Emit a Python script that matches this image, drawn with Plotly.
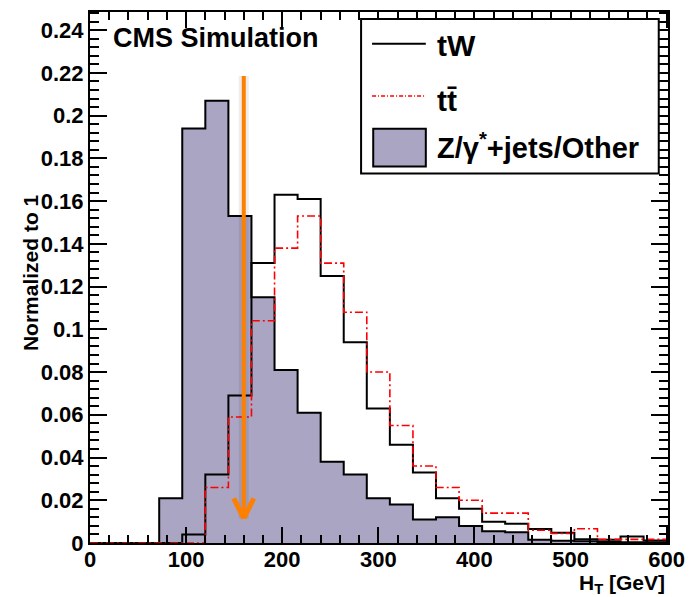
import plotly.graph_objects as go

# ---------------- data ----------------
bin_edges = [0, 24, 48, 72, 96, 120, 144, 168, 192, 216, 240, 264, 288,
             312, 336, 360, 384, 408, 432, 456, 480, 504, 528, 552, 576, 600]

z_jets_other = [0, 0, 0, 0.021, 0.194, 0.207, 0.153, 0.115, 0.081, 0.061,
                0.038, 0.032, 0.021, 0.018, 0.011, 0.012, 0.008, 0.0055,
                0.005, 0.0015, 0.001, 0.0008, 0.0005, 0.0004, 0.0003]

tw_values = [0, 0, 0, 0, 0.004, 0.032, 0.069, 0.131, 0.163, 0.161, 0.125,
             0.094, 0.063, 0.046, 0.033, 0.021, 0.016, 0.010, 0.009, 0.0065,
             0.0048, 0.0017, 0.0015, 0.003, 0.0012]

tt_values = [0, 0, 0, 0, 0, 0.026, 0.059, 0.104, 0.138, 0.153, 0.131, 0.108,
             0.080, 0.055, 0.036, 0.026, 0.020, 0.014, 0.014, 0.006, 0.0045,
             0.0067, 0.0017, 0.0017, 0.0017]

x_tick_vals = [0, 100, 200, 300, 400, 500, 600]
x_tick_text = ["0", "100", "200", "300", "400", "500", "600"]
y_tick_vals = [0, 0.02, 0.04, 0.06, 0.08, 0.10, 0.12, 0.14, 0.16, 0.18, 0.20, 0.22, 0.24]
y_tick_text = ["0", "0.02", "0.04", "0.06", "0.08", "0.1", "0.12", "0.14",
               "0.16", "0.18", "0.2", "0.22", "0.24"]

series_names = ["tW", "tt\u0304", "Z/\u03b3<sup>*</sup>+jets/Other"]
cut_value = 160          # H_T cut marked by the arrow
arrow_top = 0.2186
arrow_tip = 0.0115

# ---------------- style ----------------
FILL = "#A9A5C3"
FONT = "Liberation Sans"
ORANGE = "#FF8000"


def steps(vals):
    return bin_edges, list(vals) + [vals[-1]]


fig = go.Figure()

zx, zy = steps(z_jets_other)
fig.add_trace(go.Scatter(x=zx, y=zy, mode="lines", line_shape="hv",
                         line=dict(color="black", width=2),
                         fill="tozeroy", fillcolor=FILL, showlegend=False))

wx, wy = steps(tw_values)
fig.add_trace(go.Scatter(x=wx, y=wy, mode="lines", line_shape="hv",
                         line=dict(color="black", width=2), showlegend=False))

tx, ty = steps(tt_values)
fig.add_trace(go.Scatter(x=tx, y=ty, mode="lines", line_shape="hv",
                         line=dict(color="#FF0000", width=1.6, dash="8px,3px,2px,3px"),
                         showlegend=False))

shapes = []
# arrow shadow
shapes.append(dict(type="line", xref="x", yref="y", x0=cut_value, x1=cut_value,
                   y0=arrow_top, y1=arrow_tip, line=dict(color="rgba(0,0,0,0.07)", width=10)))
# arrow shaft
shapes.append(dict(type="line", xref="x", yref="y", x0=cut_value, x1=cut_value,
                   y0=arrow_top, y1=arrow_tip, line=dict(color=ORANGE, width=4)))
# arrow head (pixel-sized relative to tip)
for dx in (-10, 10):
    shapes.append(dict(type="line", xref="x", yref="y",
                       xsizemode="pixel", ysizemode="pixel",
                       xanchor=cut_value, yanchor=arrow_tip,
                       x0=dx, y0=20, x1=0, y1=0,
                       line=dict(color=ORANGE, width=5)))

# legend box (paper coords)
shapes.append(dict(type="rect", xref="paper", yref="paper",
                   x0=0.469, x1=0.984, y0=0.696, y1=0.987,
                   line=dict(color="black", width=2), fillcolor="white"))
shapes.append(dict(type="line", xref="paper", yref="paper",
                   x0=0.488, x1=0.581, y0=0.940, y1=0.940,
                   line=dict(color="black", width=2)))
shapes.append(dict(type="line", xref="paper", yref="paper",
                   x0=0.488, x1=0.581, y0=0.842, y1=0.842,
                   line=dict(color="#FF0000", width=1.5, dash="4px,2px,1px,2px")))
shapes.append(dict(type="rect", xref="paper", yref="paper",
                   x0=0.490, x1=0.581, y0=0.709, y1=0.780,
                   line=dict(color="black", width=2), fillcolor=FILL))

annotations = [
    dict(text="CMS Simulation", xref="paper", yref="paper", x=0.036, y=0.951,
         xanchor="left", yanchor="middle", showarrow=False,
         font=dict(family=FONT, size=27, color="black", weight="bold")),
    dict(text=series_names[0], xref="paper", yref="paper", x=0.597, y=0.936,
         xanchor="left", yanchor="middle", showarrow=False,
         font=dict(family=FONT, size=30, color="black", weight="bold")),
    dict(text=series_names[1], xref="paper", yref="paper", x=0.597, y=0.834,
         xanchor="left", yanchor="middle", showarrow=False,
         font=dict(family=FONT, size=30, color="black", weight="bold")),
    dict(text=series_names[2], xref="paper", yref="paper", x=0.597, y=0.748,
         xanchor="left", yanchor="middle", showarrow=False,
         font=dict(family=FONT, size=29, color="black", weight="bold")),
    dict(text="Normalized to 1", xref="paper", yref="paper", x=-0.104, y=0.51,
         xanchor="center", yanchor="middle", textangle=-90, showarrow=False,
         font=dict(family=FONT, size=21, color="black", weight="bold")),
    dict(text="H<sub>T</sub> [GeV]", xref="paper", yref="paper", x=0.998, y=-0.077,
         xanchor="right", yanchor="middle", showarrow=False,
         font=dict(family=FONT, size=21, color="black", weight="bold")),
]

tickfont = dict(family=FONT, size=22, color="black", weight="bold")

# page body has an 8px margin, so the figure is 8px smaller and shifted accordingly
fig.update_layout(
    width=690, height=589,
    margin=dict(l=82, r=30, t=2, b=54),
    paper_bgcolor="white", plot_bgcolor="white",
    shapes=shapes, annotations=annotations,
    xaxis=dict(range=[0, 601.4], tickmode="array", tickvals=x_tick_vals, ticktext=x_tick_text,
               ticks="inside", ticklen=16, tickwidth=2, tickcolor="black", ticklabelstandoff=-4,
               minor=dict(ticks="inside", dtick=20, tick0=0, ticklen=8, tickwidth=1.5, tickcolor="black"),
               showline=True, linewidth=2, linecolor="black", mirror="ticks",
               showgrid=False, zeroline=False, tickfont=tickfont),
    yaxis=dict(range=[0, 0.2485], tickmode="array", tickvals=y_tick_vals, ticktext=y_tick_text,
               ticks="inside", ticklen=17, tickwidth=2, tickcolor="black",
               minor=dict(ticks="inside", dtick=0.004, tick0=0, ticklen=9, tickwidth=1.5, tickcolor="black"),
               showline=True, linewidth=2, linecolor="black", mirror="ticks",
               showgrid=False, zeroline=False, tickfont=tickfont),
)

fig.write_html("out.html")
